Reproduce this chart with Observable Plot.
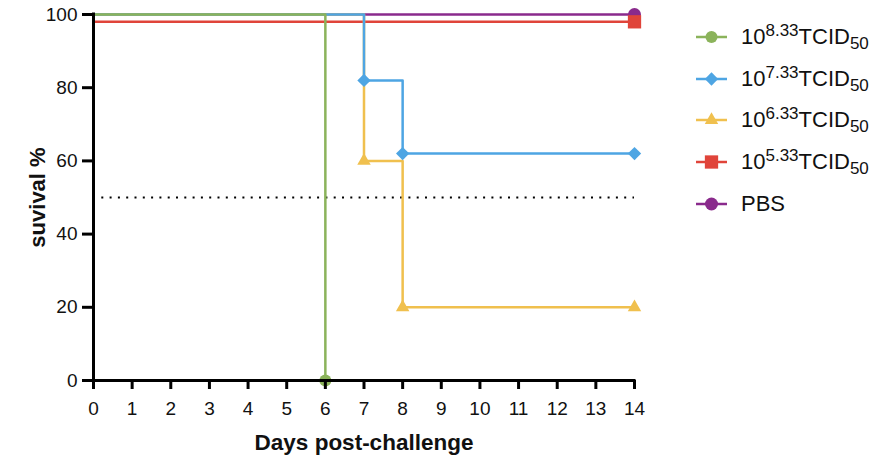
<!DOCTYPE html>
<html>
<head>
<meta charset="utf-8">
<script src="https://cdn.jsdelivr.net/npm/d3@7"></script>
<script src="https://cdn.jsdelivr.net/npm/@observablehq/plot@0.6"></script>
<style>
  body { margin: 0; background: #fff; font-family: "Liberation Sans", Arial, sans-serif; }
  #wrap { position: relative; width: 886px; height: 468px; }
  #legend { position: absolute; left: 696px; top: 16px; }
  .item { display: flex; align-items: center; height: 41.7px; font-size: 22px; color: #111; white-space: nowrap; }
  .item svg { margin-right: 14px; }
  sup { font-size: 17px; vertical-align: 0; position: relative; top: -8px; }
  sub { font-size: 17px; vertical-align: 0; position: relative; top: 5px; }
</style>
</head>
<body>
<div id="wrap"><div id="legend"></div></div>
<script>
// ---- data ----
const seriesBase = ["8.33", "7.33", "6.33", "5.33", "PBS"];
const seriesColors = ["#8bb35b", "#4ea5e3", "#f0c04e", "#e0443a", "#8a2a8c"];
const seriesSymbols = ["circle", "diamond2", "triangle", "square", "circle"];
const seriesR = [6, 6, 5, 7.5, 6.5];

const days8 = [0, 6];        const surv8 = [100, 0];
const days7 = [0, 7, 8, 14]; const surv7 = [100, 82, 62, 62];
const days6 = [0, 7, 8, 14]; const surv6 = [100, 60, 20, 20];
const days5 = [0, 14];       const surv5 = [98, 98];
const daysPBS = [0, 14];     const survPBS = [100, 100];

const xTicks = [0,1,2,3,4,5,6,7,8,9,10,11,12,13,14];
const yTicks = [0, 20, 40, 60, 80, 100];
const refLine = 50;
const xLabel = "Days post-challenge";
const yLabel = "suvival %";

// ---- build ----
const allDays = [days8, days7, days6, days5, daysPBS];
const allSurv = [surv8, surv7, surv6, surv5, survPBS];
const series = allDays.map((ds, i) => ds.map((d, j) => ({x: d, y: allSurv[i][j], i})));

const drawOrder = [4, 3, 2, 1, 0];
const marks = [
  Plot.ruleY([refLine], {x1: 0, x2: 14, stroke: "#000", strokeWidth: 2, strokeDasharray: "2,6.3"}),
];
for (const i of drawOrder) {
  marks.push(Plot.line(series[i], {x: "x", y: "y", curve: "step-after", stroke: seriesColors[i], strokeWidth: 2.5}));
}
for (const i of drawOrder) {
  marks.push(Plot.dot(series[i].filter(d => d.x > 0), {x: "x", y: "y", symbol: seriesSymbols[i], fill: seriesColors[i], r: seriesR[i], stroke: "none"}));
}
marks.push(
  Plot.ruleX([0], {y1: 0, y2: 100, stroke: "#000", strokeWidth: 3, strokeLinecap: "square"}),
  Plot.ruleY([0], {x1: 0, x2: 14, stroke: "#000", strokeWidth: 3, strokeLinecap: "square"}),
  Plot.axisX(xTicks, {tickSize: 9, tickPadding: 12, strokeWidth: 3, fontSize: 19, label: null, fill: "#111"}),
  Plot.axisY(yTicks, {tickSize: 11, tickPadding: 5, strokeWidth: 3, fontSize: 19, label: null, fill: "#111"}),
  Plot.text([xLabel], {frameAnchor: "bottom", dy: 69, fontSize: 22.5, fontWeight: "bold", fill: "#111"}),
  Plot.text([yLabel], {frameAnchor: "left", textAnchor: "middle", dx: -56, rotate: -90, fontSize: 22, fontWeight: "bold", fill: "#111"})
);

const chart = Plot.plot({
  width: 886, height: 468,
  marginLeft: 93, marginRight: 252, marginTop: 14, marginBottom: 88,
  style: {fontFamily: "'Liberation Sans', Arial, sans-serif", background: "#fff", overflow: "visible"},
  x: {domain: [0, 14]},
  y: {domain: [0, 100]},
  marks
});
document.getElementById("wrap").prepend(chart);

// ---- legend ----
const legend = d3.select("#legend");
const symMap = {circle: d3.symbolCircle, diamond2: d3.symbolDiamond2, triangle: d3.symbolTriangle, square: d3.symbolSquare};
seriesBase.forEach((b, i) => {
  const row = legend.append("div").attr("class", "item");
  const svg = row.append("svg").attr("width", 31).attr("height", 18);
  svg.append("line").attr("x1", 0).attr("x2", 31).attr("y1", 9).attr("y2", 9)
    .attr("stroke", seriesColors[i]).attr("stroke-width", 2.5);
  svg.append("path").attr("transform", "translate(15.5,9)")
    .attr("d", d3.symbol(symMap[seriesSymbols[i]], Math.PI * seriesR[i] * seriesR[i])())
    .attr("fill", seriesColors[i]);
  const label = row.append("span");
  if (b === "PBS") label.text("PBS");
  else label.html(`10<sup>${b}</sup>TCID<sub>50</sub>`);
});
</script>
</body>
</html>
